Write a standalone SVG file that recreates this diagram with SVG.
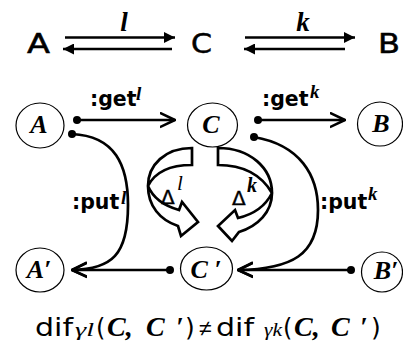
<svg xmlns="http://www.w3.org/2000/svg" width="403" height="345" viewBox="0 0 403 345">
<style>
.ln{fill:none;stroke:#000;stroke-width:2.7}
.nd{fill:#fff;stroke:#000;stroke-width:1.2}
.big{font-family:"DejaVu Sans","Liberation Sans",sans-serif;font-size:26px;fill:#000;stroke:#000;stroke-width:0.5}
.it{font-family:"Liberation Serif","Times New Roman",serif;font-style:italic;font-weight:bold;fill:#000}
.lab{font-family:"DejaVu Sans","Liberation Sans",sans-serif;font-weight:bold;font-size:20.5px;fill:#000}
.sup{font-family:"Liberation Serif",serif;font-style:italic;font-weight:bold;font-size:19px;fill:#000}
.ring{fill:#fff;stroke:#000;stroke-width:2.7;stroke-linejoin:miter}
.sf{font-family:"DejaVu Sans","Liberation Sans",sans-serif;fill:#000}
.dl{font-family:"DejaVu Sans","Liberation Sans",sans-serif;font-size:20px;fill:#000;stroke:#000;stroke-width:0.4}
</style>
<defs>
<marker id="fh" viewBox="0 0 10 10" refX="10" refY="5" markerWidth="15" markerHeight="11" markerUnits="userSpaceOnUse" orient="auto"><path d="M0,0 L10,5 L0,10 Z" fill="#000"/></marker>
<marker id="oh" viewBox="0 0 10 10" refX="9.5" refY="5" markerWidth="16" markerHeight="17" markerUnits="userSpaceOnUse" orient="auto"><path d="M0,0.5 L9.5,5 L0,9.5" fill="none" stroke="#000" stroke-width="1.6"/></marker>
<marker id="dt" viewBox="0 0 10 10" refX="5" refY="5" markerWidth="8" markerHeight="8" markerUnits="userSpaceOnUse"><circle cx="5" cy="5" r="5" fill="#000"/></marker>
</defs>

<g id="top-row">
<text class="big" x="27" y="53" textLength="23" lengthAdjust="spacingAndGlyphs">A</text>
<text class="big" x="191" y="53" textLength="21" lengthAdjust="spacingAndGlyphs">C</text>
<text class="big" x="378" y="53" textLength="22" lengthAdjust="spacingAndGlyphs">B</text>
<text class="it" x="124" y="31" font-size="27" text-anchor="middle">l</text>
<text class="it" x="303" y="31" font-size="27" text-anchor="middle">k</text>
<line class="ln" x1="65" y1="37.5" x2="175" y2="37.5" marker-end="url(#fh)"/>
<line class="ln" x1="172" y1="49" x2="63" y2="49" marker-end="url(#fh)"/>
<line class="ln" x1="245" y1="37.5" x2="355" y2="37.5" marker-end="url(#fh)"/>
<line class="ln" x1="345" y1="49" x2="244" y2="49" marker-end="url(#fh)"/>
</g>

<g id="connectors">
<line class="ln" x1="77" y1="120" x2="175" y2="120" marker-start="url(#dt)" marker-end="url(#oh)"/>
<line class="ln" x1="258" y1="120" x2="345" y2="120" marker-start="url(#dt)" marker-end="url(#oh)"/>
<path class="ln" d="M72,134 C115,136 128,165 128,205 C128,255 112,269 72,270" marker-start="url(#dt)" marker-end="url(#oh)"/>
<path class="ln" d="M254,137 C300,145 318,175 318,210 C318,255 292,269 238,270" marker-start="url(#dt)" marker-end="url(#oh)"/>
<line class="ln" x1="170" y1="270" x2="72" y2="270" marker-start="url(#dt)" marker-end="url(#oh)"/>
<line class="ln" x1="351" y1="270" x2="238" y2="270" marker-start="url(#dt)" marker-end="url(#oh)"/>
<text class="lab" x="90" y="106">:get</text><text class="sup" x="136" y="100">l</text>
<text class="lab" x="262" y="106">:get</text><text class="sup" x="310" y="98">k</text>
<text class="lab" x="72" y="209">:put</text><text class="sup" x="121" y="204">l</text>
<text class="lab" x="320" y="209">:put</text><text class="sup" x="368" y="200">k</text>
</g>

<g id="delta-l">
<path class="ring" d="M192,148 C165,148 148,165 148,186 C148,206 160,220 178,226 L181,236 L198,222 L182,202 L179,210 C165,206 153,198 148,186 C155,172 170,165 192,165 Z"/>
<text class="dl" x="161" y="204">Δ</text>
<text x="177" y="190" font-family="Liberation Serif,serif" font-style="italic" font-size="21" fill="#000">l</text>
</g>
<g id="delta-k">
<path class="ring" d="M218,148 C250,148 272,168 272,193 C272,212 258,226 239,232 L232,241 L218,226 L235,210 L238,218 C255,214 266,205 272,193 C262,176 245,165 218,165 Z"/>
<text class="dl" x="232" y="205">Δ</text>
<text x="247" y="192" font-family="Liberation Serif,serif" font-style="italic" font-weight="bold" font-size="20" fill="#000">k</text>
</g>

<g id="A"><ellipse class="nd" cx="40" cy="125.5" rx="24" ry="22.5"/><text class="it" x="39" y="133" font-size="26" text-anchor="middle">A</text></g>
<g id="C"><ellipse class="nd" cx="212.5" cy="125" rx="25" ry="22"/><text class="it" x="211" y="133" font-size="26" text-anchor="middle">C</text></g>
<g id="B"><ellipse class="nd" cx="380" cy="124" rx="22.5" ry="22"/><text class="it" x="381" y="132" font-size="26" text-anchor="middle">B</text></g>
<g id="A-prime"><ellipse class="nd" cx="40" cy="270" rx="24" ry="22"/><text class="it" x="39" y="278" font-size="26" text-anchor="middle">A′</text></g>
<g id="C-prime"><ellipse class="nd" cx="206.5" cy="268.5" rx="26" ry="21.5"/><text class="it" x="206" y="278" font-size="26" text-anchor="middle">C ′</text></g>
<g id="B-prime"><ellipse class="nd" cx="382" cy="272" rx="20.5" ry="20"/><text class="it" x="386" y="279" font-size="26" text-anchor="middle">B′</text></g>

<g id="formula" font-size="25">
<text class="sf" x="35" y="336" textLength="38" lengthAdjust="spacingAndGlyphs">dif</text>
<text x="75" y="336" font-family="Liberation Serif,serif" font-style="italic" font-size="19" textLength="19" lengthAdjust="spacingAndGlyphs">γl</text>
<text class="sf" x="96" y="336" font-size="24">(</text>
<text class="it" x="107" y="336" font-size="28">C,</text>
<text class="it" x="146" y="336" font-size="28">C</text>
<text class="it" x="176" y="336" font-size="27">′</text>
<text class="sf" x="185" y="336">)</text>
<text x="199" y="336" font-family="Liberation Sans,sans-serif" font-size="23" fill="#000">≠</text>
<text class="sf" x="216" y="336" textLength="38" lengthAdjust="spacingAndGlyphs">dif</text>
<text x="264" y="336" font-family="Liberation Serif,serif" font-style="italic" font-size="19" textLength="18" lengthAdjust="spacingAndGlyphs">γk</text>
<text class="sf" x="283" y="336" font-size="24">(</text>
<text class="it" x="294" y="336" font-size="28">C,</text>
<text class="it" x="331" y="336" font-size="28">C</text>
<text class="it" x="360" y="336" font-size="27">′</text>
<text class="sf" x="371" y="336">)</text>
</g>
</svg>
